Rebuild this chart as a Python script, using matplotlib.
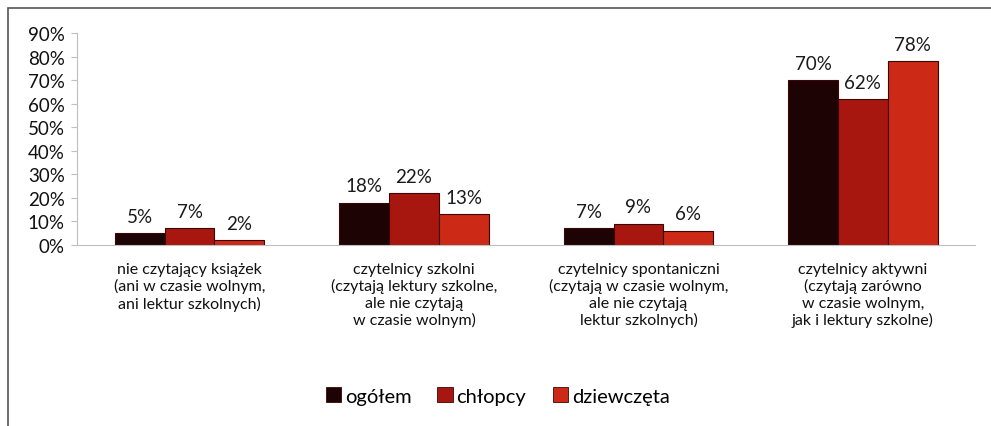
import matplotlib.pyplot as plt
import matplotlib.patches as mpatches
import numpy as np

plt.rcParams['font.family'] = ['Lato', 'DejaVu Sans']

categories = [
    "nie czytający książek\n(ani w czasie wolnym,\nani lektur szkolnych)",
    "czytelnicy szkolni\n(czytają lektury szkolne,\nale nie czytają\nw czasie wolnym)",
    "czytelnicy spontaniczni\n(czytają w czasie wolnym,\nale nie czytają\nlektur szkolnych)",
    "czytelnicy aktywni\n(czytają zarówno\nw czasie wolnym,\njak i lektury szkolne)",
]
series_names = ["ogółem", "chłopcy", "dziewczęta"]
ogolem = [5, 18, 7, 70]
chlopcy = [7, 22, 9, 62]
dziewczeta = [2, 13, 6, 78]
y_ticks = [0, 10, 20, 30, 40, 50, 60, 70, 80, 90]

colors = ["#1e0305", "#a8170f", "#cc2a16"]
values = [ogolem, chlopcy, dziewczeta]

fig = plt.figure(figsize=(9.91, 4.27), dpi=100)
ax = fig.add_axes([0.078, 0.424, 0.906, 0.496])

x = np.arange(len(categories))
w = 0.222
for i, (name, vals) in enumerate(zip(series_names, values)):
    pos = x + (i - 1) * w
    bars = ax.bar(pos, vals, w, color=colors[i], edgecolor="#3a0606", linewidth=0.8, label=name)
    for b, v in zip(bars, vals):
        ax.annotate(f"{v}%", (b.get_x() + b.get_width() / 2, v), xytext=(0, 6),
                    textcoords="offset points", ha="center", va="bottom",
                    fontsize=13.5, color="#1a1a1a")

ax.set_xlim(-0.5, len(categories) - 0.5)
ax.set_ylim(0, 90)
ax.set_yticks(y_ticks)
ax.set_yticklabels([f"{t}%" for t in y_ticks], fontsize=13.5, color="#111111")
ax.set_xticks(x)
ax.set_xticklabels(categories, fontsize=11.5, color="#111111", linespacing=1.22)
ax.tick_params(axis="x", length=0, pad=12)
ax.tick_params(axis="y", length=4, color="#bfbfbf", pad=5)
for s in ["top", "right"]:
    ax.spines[s].set_visible(False)
ax.spines["left"].set_color("#bfbfbf")
ax.spines["bottom"].set_color("#bfbfbf")

handles = [mpatches.Patch(facecolor=c, edgecolor="#3a0606", linewidth=0.6) for c in colors]
fig.legend(handles, series_names, loc="center", bbox_to_anchor=(0.502, 0.07), ncol=3,
           frameon=False, fontsize=14.5, handlelength=0.75, handleheight=0.75,
           handletextpad=0.2, columnspacing=1.3)

# outer frame (only left and top edges visible in the crop)
frame = mpatches.Rectangle((8 / 991, -0.1), 1.2, 1 - 9 / 427 + 0.1, transform=fig.transFigure,
                           fill=False, edgecolor="#555555", linewidth=1.2)
fig.patches.append(frame)

fig.savefig("out.png", dpi=100)
